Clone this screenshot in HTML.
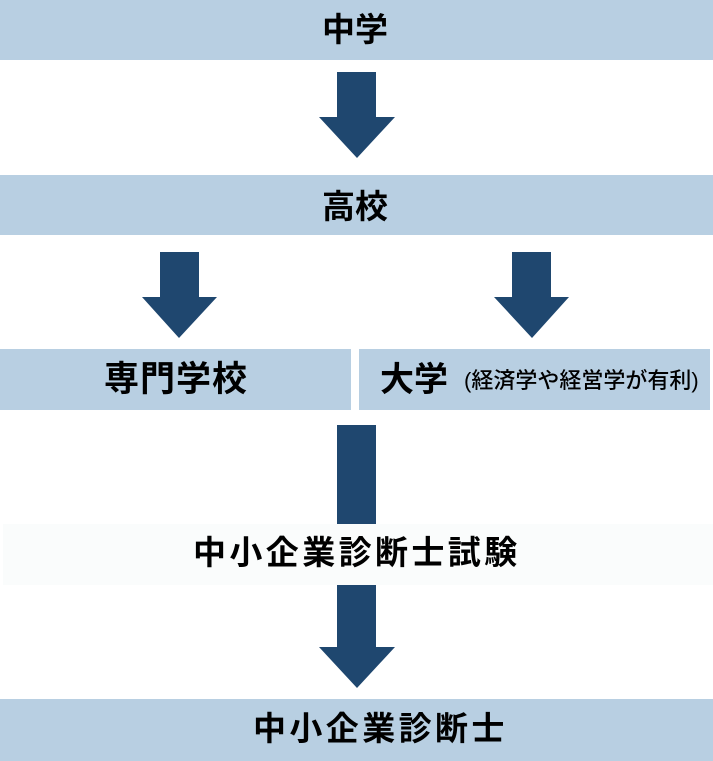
<!DOCTYPE html>
<html>
<head>
<meta charset="utf-8">
<style>
html,body{margin:0;padding:0;background:#fff;}
body{width:713px;height:761px;position:relative;overflow:hidden;
font-family:"Liberation Sans","Noto Sans CJK JP",sans-serif;}
.box{position:absolute;background:#b8cfe2;}
.t{position:absolute;color:#000;font-weight:700;white-space:nowrap;line-height:1;}
svg{position:absolute;left:0;top:0;}
</style>
</head>
<body>
<div class="box" style="left:0;top:0;width:713px;height:60px;"></div>
<div class="box" style="left:0;top:175px;width:713px;height:60px;"></div>
<div class="box" style="left:0;top:349px;width:351px;height:61px;"></div>
<div class="box" style="left:359px;top:349px;width:351px;height:61px;"></div>
<div class="box" style="left:3px;top:524px;width:710px;height:61px;background:#fafcfc;"></div>
<div class="box" style="left:0;top:699px;width:713px;height:62px;"></div>

<svg width="713" height="761" viewBox="0 0 713 761">
  <g fill="#1f476f">
    <polygon points="337,72 376,72 376,117 395,117 357,158 319,117 337,117"/>
    <polygon points="160,252 199,252 199,297 217,297 179,338 142,297 160,297"/>
    <polygon points="512,252 551,252 551,297 569,297 532,338 494,297 512,297"/>
    <rect x="337" y="425" width="39" height="99"/>
    <polygon points="337,585 376,585 376,647 395,647 357,688 319,647 337,647"/>
  </g>
</svg>

<div class="t" style="left:322px;top:13px;font-size:33px;">中学</div>
<div class="t" style="left:322px;top:190px;font-size:33px;">高校</div>
<div class="t" style="left:104px;top:362px;font-size:35px;letter-spacing:1px;">専門学校</div>
<div class="t" style="left:380px;top:363px;font-size:34px;">大学</div>
<div class="t" style="left:464px;top:370px;font-size:22px;font-weight:500;">(経済学や経営学が有利)</div>
<div class="t" style="left:193px;top:536px;font-size:33px;letter-spacing:3.4px;">中小企業診断士試験</div>
<div class="t" style="left:253px;top:712px;font-size:33px;letter-spacing:3.4px;">中小企業診断士</div>
</body>
</html>
